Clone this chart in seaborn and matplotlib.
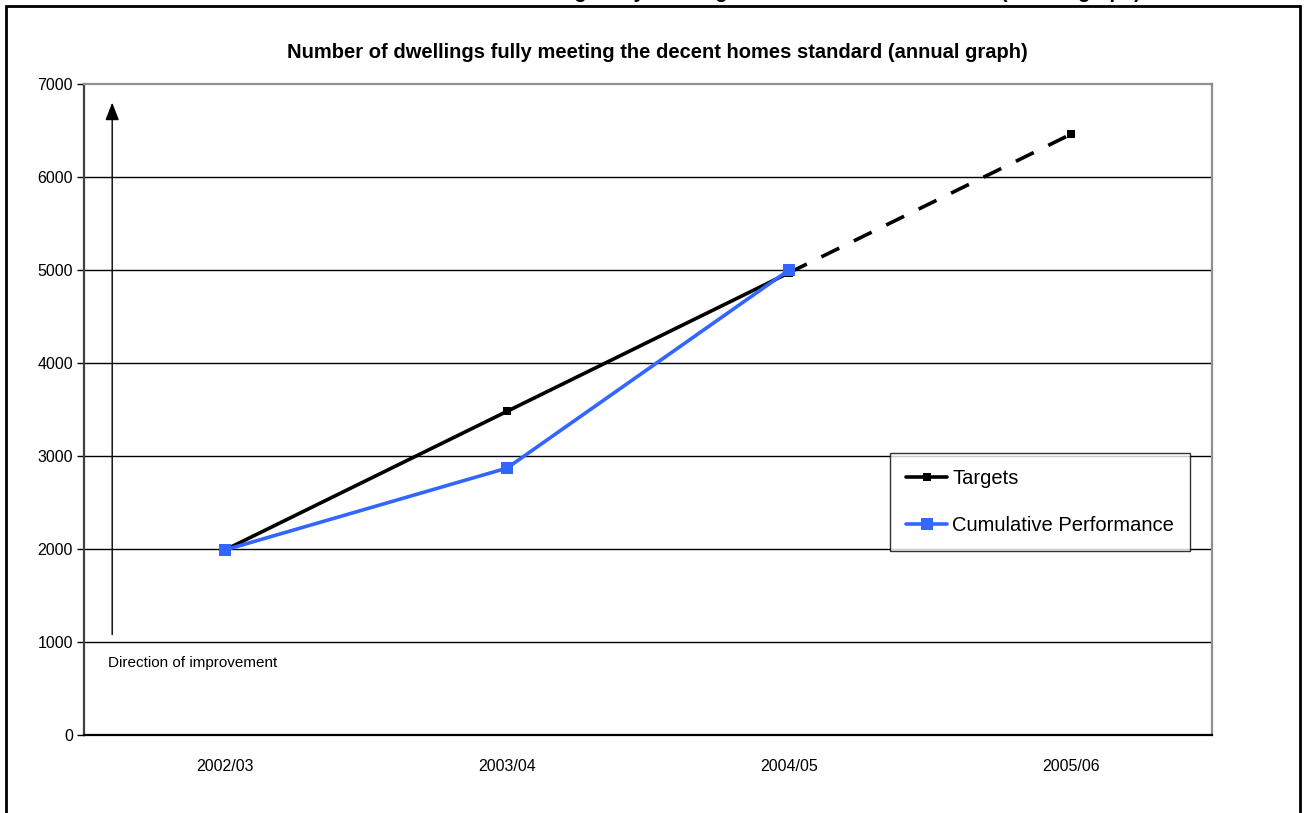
import numpy as np
import pandas as pd
import seaborn as sns
import matplotlib.pyplot as plt
from matplotlib.patches import Rectangle

# chart values
years = ["2002/03", "2003/04", "2004/05", "2005/06"]
targets = [1990, 3480, 4970, 6460]
cumulative = [1990, 2870, 5000]
y_ticks = [0, 1000, 2000, 3000, 4000, 5000, 6000, 7000]

title = "Number of dwellings fully meeting the decent homes standard (annual graph)"
blue = "#3366FF"

sns.set_theme(style="white")
plt.rcParams['font.family'] = ['Liberation Sans', 'DejaVu Sans']
plt.rcParams['text.color'] = 'black'
plt.rcParams['xtick.color'] = 'black'
plt.rcParams['ytick.color'] = 'black'

fig = plt.figure(figsize=(13.05, 8.13), dpi=100)
ax = fig.add_axes([84 / 1305, 1 - 735 / 813, 1128 / 1305, 651 / 813])

pos = np.arange(len(years))
df_t = pd.DataFrame({"x": pos, "y": targets})
df_c = pd.DataFrame({"x": pos[:len(cumulative)], "y": cumulative})

# targets: solid for actual years, dashed for the projection
sns.lineplot(data=df_t.iloc[:3], x="x", y="y", ax=ax, color="black", lw=2.6,
             marker="s", markersize=6, markeredgewidth=0, zorder=3, label="Targets")
sns.lineplot(data=df_t.iloc[2:], x="x", y="y", ax=ax, color="black", lw=2.6,
             marker="s", markersize=6, markeredgewidth=0, zorder=3,
             dashes=(5.5, 4.5), legend=False)
sns.lineplot(data=df_c, x="x", y="y", ax=ax, color=blue, lw=2.6,
             marker="s", markersize=8, markeredgewidth=0, zorder=4,
             label="Cumulative Performance")

ax.set_xlim(-0.5, len(years) - 0.5)
ax.set_ylim(0, 7000)
ax.set_yticks(y_ticks)
ax.set_yticklabels([str(v) for v in y_ticks], fontsize=11.5)
ax.set_xticks(pos)
ax.set_xticklabels(years, fontsize=11.5)
ax.set_xticks(np.arange(len(years) + 1) - 0.5, minor=True)
ax.tick_params(axis="x", which="major", length=0, pad=17)
ax.tick_params(axis="x", which="minor", length=5, width=1, color="black", direction="out")
ax.tick_params(axis="y", which="major", length=5, width=1, color="black", direction="out", left=True, pad=3)
ax.set_xlabel("")
ax.set_ylabel("")

for v in y_ticks[1:-1]:
    ax.axhline(v, color="black", lw=1, zorder=1)

ax.spines["left"].set_color("#404040")
ax.spines["bottom"].set_color("black")
ax.spines["top"].set_color("#909090")
ax.spines["right"].set_color("#909090")
for s in ax.spines.values():
    s.set_linewidth(1.6)

# direction of improvement arrow
ax.annotate("", xy=(-0.4, 6800), xytext=(-0.4, 1080),
            arrowprops=dict(arrowstyle="-|>,head_width=0.35,head_length=0.9",
                        color="black", lw=1, shrinkA=0, shrinkB=0))
ax.text(-0.415, 770, "Direction of improvement", fontsize=11, va="center", ha="left")

leg = ax.legend(loc="upper left", bbox_to_anchor=(806 / 1128, (735 - 453) / 651),
                frameon=True, fancybox=False, fontsize=14.5, handlelength=2.05,
                handletextpad=0.25, labelspacing=1.4, borderpad=0.8, borderaxespad=0)
leg.get_frame().set_edgecolor("black")
leg.get_frame().set_linewidth(1)

fig.text(657 / 1305, 1 - 53 / 813, title, ha="center", va="center",
         fontsize=14.5, fontweight="bold")

# clipped heading from the page above the chart (only its descenders show)
fig.text(770 / 1305, 1 + 2.5 / 813, title, ha="center", va="baseline",
         fontsize=14.5, fontweight="bold", zorder=5)

fig.patches.append(Rectangle((6 / 1305, -0.1), 1294 / 1305, 1.1 - 6 / 813,
                             transform=fig.transFigure, fill=False,
                             edgecolor="black", lw=2))

fig.savefig("out.png", dpi=100)
